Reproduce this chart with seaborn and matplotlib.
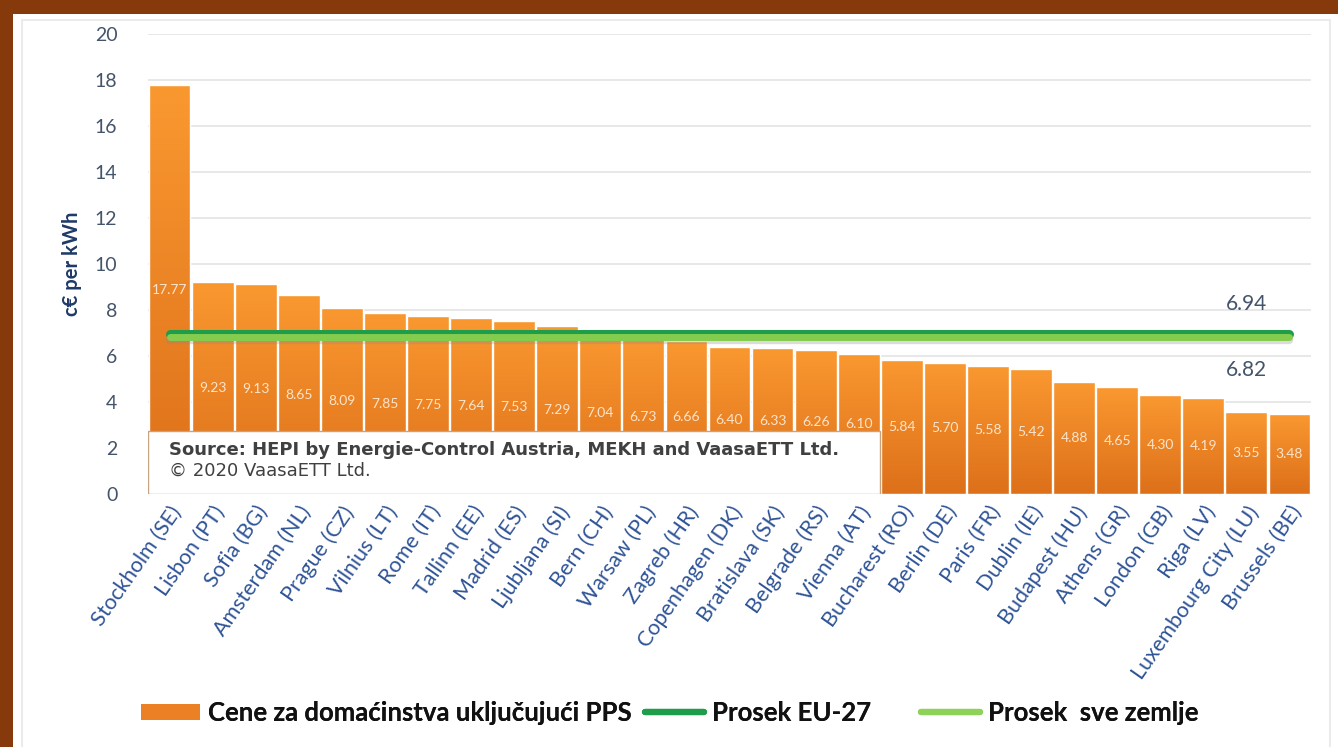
import numpy as np
import pandas as pd
import matplotlib.pyplot as plt
import seaborn as sns
from matplotlib.patches import Rectangle, Patch
from matplotlib.lines import Line2D
from matplotlib.colors import LinearSegmentedColormap

# --- Data ---
cities = ["Stockholm (SE)", "Lisbon (PT)", "Sofia (BG)", "Amsterdam (NL)", "Prague (CZ)",
          "Vilnius (LT)", "Rome (IT)", "Tallinn (EE)", "Madrid (ES)", "Ljubljana (SI)",
          "Bern (CH)", "Warsaw (PL)", "Zagreb (HR)", "Copenhagen (DK)", "Bratislava (SK)",
          "Belgrade (RS)", "Vienna (AT)", "Bucharest (RO)", "Berlin (DE)", "Paris (FR)",
          "Dublin (IE)", "Budapest (HU)", "Athens (GR)", "London (GB)", "Riga (LV)",
          "Luxembourg City (LU)", "Brussels (BE)"]
prices = [17.77, 9.23, 9.13, 8.65, 8.09, 7.85, 7.75, 7.64, 7.53, 7.29,
          7.04, 6.73, 6.66, 6.40, 6.33, 6.26, 6.10, 5.84, 5.70, 5.58,
          5.42, 4.88, 4.65, 4.30, 4.19, 3.55, 3.48]
avg_eu27 = 6.94
avg_all = 6.82
yticks = list(range(0, 21, 2))

df = pd.DataFrame({"city": cities, "price": prices})

sns.set_style("white")
plt.rcParams["font.family"] = ["Lato", "DejaVu Sans"]

fig = plt.figure(figsize=(13.38, 7.47), dpi=100)
fig.patch.set_facecolor("#863A0C")
fig.add_artist(Rectangle((13 / 1338, 0), 1, 1 - 14 / 747, transform=fig.transFigure,
                         facecolor="white", edgecolor="none", zorder=0))
# faint chart-area frame (open at the bottom)
fig.add_artist(Rectangle((22 / 1338, -0.05), (1330 - 22) / 1338, 0.05 + 727 / 747,
                         transform=fig.transFigure, facecolor="none",
                         edgecolor="#EBEBEB", lw=1.5, zorder=0.5))

ax = fig.add_axes([148 / 1338, 1 - 494 / 747, (1311 - 148) / 1338, (494 - 34) / 747])
ax.set_facecolor("none")

sns.barplot(data=df, x="city", y="price", color="#F28A26", width=0.97,
            edgecolor="white", linewidth=1, saturation=1, ax=ax, zorder=2)

# vertical gradient inside each bar
grad = np.linspace(0, 1, 100).reshape(-1, 1)
cmap = LinearSegmentedColormap.from_list("bar", ["#DD701A", "#FA9830"])
for p in ax.patches:
    x0, y0 = p.get_x(), p.get_y()
    w, h = p.get_width(), p.get_height()
    im = ax.imshow(grad, extent=[x0, x0 + w, y0, y0 + h], origin="lower",
                   cmap=cmap, aspect="auto", zorder=2.5)
    im.set_clip_path(p)
    p.set_facecolor("none")
    p.set_zorder(2.6)

# value labels at bar centers
for i, v in enumerate(prices):
    ax.text(i, v / 2, f"{v:.2f}", ha="center", va="center", fontsize=10,
            color="#FCE4CC", zorder=3)

# average lines
n = len(cities)
ax.plot([0, n - 1], [avg_all - 0.12, avg_all - 0.12], color="#8A8A8A", lw=6,
        alpha=0.3, solid_capstyle="round", zorder=3.5)
ax.plot([0, n - 1], [avg_eu27, avg_eu27], color="#1E9E4A", lw=6.5,
        solid_capstyle="round", zorder=4)
ax.plot([0, n - 1], [avg_all, avg_all], color="#84CC4E", lw=5,
        solid_capstyle="round", zorder=4.1)
ax.text(n - 2, avg_eu27 + 1.3, f"{avg_eu27:.2f}", ha="center", va="center",
        fontsize=15, color="#44546A")
ax.text(n - 2, avg_all - 1.45, f"{avg_all:.2f}", ha="center", va="center",
        fontsize=15, color="#44546A")

# source box
ax.add_patch(Rectangle((-0.5, 0), 17, 2.75, facecolor="white", edgecolor="#C9A27E",
                       lw=1, zorder=5))
ax.text(-0.02, 1.92, "Source: HEPI by Energie-Control Austria, MEKH and VaasaETT Ltd.",
        fontsize=13, fontweight="bold", color="#404040", va="center", zorder=6,
        family="DejaVu Sans")
ax.text(-0.02, 1.0, "\u00a9 2020 VaasaETT Ltd.", fontsize=13, color="#404040",
        va="center", zorder=6, family="DejaVu Sans")

# axes styling
ax.set_xlim(-0.5, n - 0.5)
ax.set_ylim(0, 20)
ax.set_yticks(yticks)
ax.yaxis.grid(True, color="#E4E4E4", lw=1.2, zorder=0)
ax.set_axisbelow(True)
for s in ax.spines.values():
    s.set_visible(False)
ax.tick_params(axis="y", length=0, pad=22, labelsize=14, labelcolor="#44546A")
ax.tick_params(axis="x", length=0, pad=6)
ax.set_xticks(range(n))
ax.set_xticklabels(cities, rotation=55, ha="right", rotation_mode="anchor",
                   fontsize=15.5, color="#2F5496")
ax.set_xlabel("")
ax.set_ylabel("c\u20ac per kWh", fontsize=14.5, fontweight="bold", color="#1F3A68",
              labelpad=9)

# legend: three separate entries placed along the bottom
entries = [
    (Patch(facecolor="#EC8024", edgecolor="none"), "Cene za domaćinstva uključujući PPS", 141),
    (Line2D([0], [0], color="#1E9E4A", lw=4.5), "Prosek EU-27", 645),
    (Line2D([0], [0], color="#8ED25A", lw=4.5), "Prosek  sve zemlje", 921),
]
for handle, label, xpix in entries:
    leg = fig.legend([handle], [label], loc="center left",
                     bbox_to_anchor=(xpix / 1338, 1 - 713 / 747), frameon=False,
                     handlelength=2.3, handleheight=0.6, handletextpad=0.3,
                     borderpad=0, borderaxespad=0,
                     prop={"weight": "bold", "size": 18.5})
    leg.get_texts()[0].set_color("#111111")
    fig.add_artist(leg)

plt.savefig("out.png", dpi=100)
